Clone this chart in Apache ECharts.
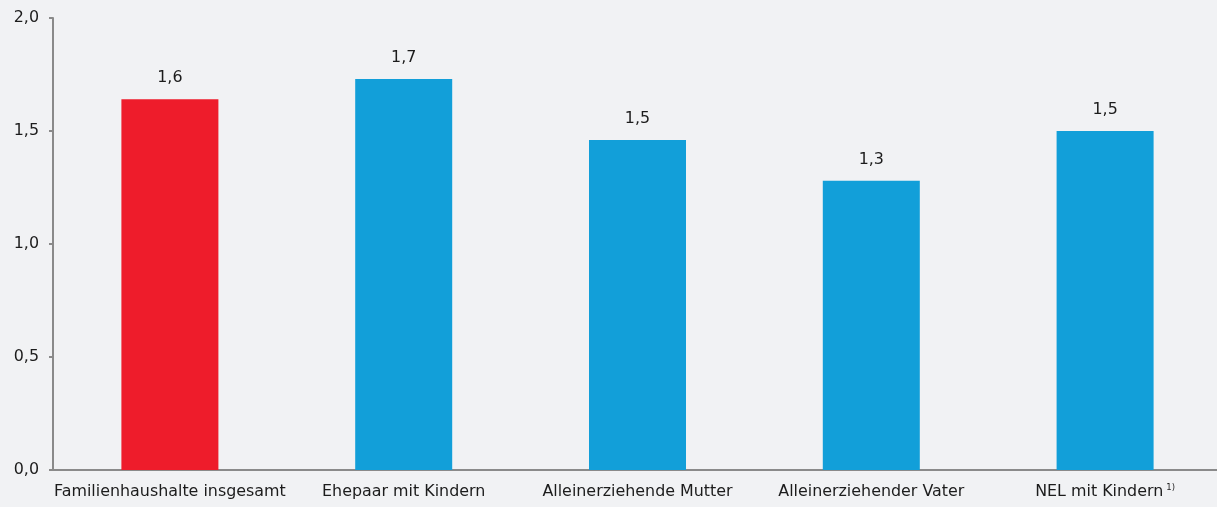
<!DOCTYPE html>
<html>
<head>
<meta charset="utf-8">
<script src="https://cdn.jsdelivr.net/npm/echarts@6/dist/echarts.min.js"></script>
<style>
  html, body { margin: 0; padding: 0; background: #f1f2f4; overflow: hidden; }
  /* the plot runs a few pixels past the right edge of the window */
  #chart { width: 1222px; height: 507px; }
</style>
</head>
<body>
<div id="chart"></div>
<script>
// Household types and their values
const categories = [
  'Familienhaushalte insgesamt',
  'Ehepaar mit Kindern',
  'Alleinerziehende Mutter',
  'Alleinerziehender Vater',
  'NEL mit Kindern'
];
const footnotes = ['', '', '', '', '1)'];
const values = [1.64, 1.73, 1.46, 1.28, 1.50];
const barColors = ['#ee1c2b', '#129fd9', '#129fd9', '#129fd9', '#129fd9'];
const yTicks = [0, 0.5, 1.0, 1.5, 2.0];

const fmt = v => v.toFixed(1).replace('.', ',');
const FONT = 'DejaVu Sans';
const FS = 15.9;
const TXT = '#1c1c1c';

const chart = echarts.init(document.getElementById('chart'), null, { renderer: 'canvas' });
chart.setOption({
  backgroundColor: '#f1f2f4',
  animation: false,
  textStyle: { fontFamily: FONT },
  grid: { left: 53, right: 0, top: 18, bottom: 37, containLabel: false },
  xAxis: {
    type: 'category',
    data: categories,
    axisLine: { show: true, lineStyle: { color: '#8a8a8a', width: 2 } },
    axisTick: { show: false },
    axisLabel: {
      interval: 0,
      margin: 13,
      color: TXT,
      fontFamily: FONT,
      fontSize: FS,
      formatter: (v, i) => footnotes[i] ? '{t|' + v + '}{sup|' + footnotes[i] + '}' : '{t|' + v + '}',
      rich: {
        t: { fontFamily: FONT, fontSize: FS, color: TXT, lineHeight: 18, verticalAlign: 'middle' },
        sup: { fontFamily: FONT, fontSize: 8.5, color: TXT, lineHeight: 18, verticalAlign: 'top', padding: [0, 0, 0, 3] }
      }
    },
    splitLine: { show: false }
  },
  yAxis: {
    type: 'value',
    min: yTicks[0],
    max: yTicks[yTicks.length - 1],
    interval: 0.5,
    axisLine: { show: true, lineStyle: { color: '#8a8a8a', width: 2 } },
    axisTick: { show: true, inside: false, length: 4, lineStyle: { color: '#8a8a8a', width: 2 } },
    axisLabel: {
      margin: 14,
      color: TXT,
      fontFamily: FONT,
      fontSize: FS,
      formatter: v => fmt(v)
    },
    splitLine: { show: false }
  },
  series: [{
    type: 'bar',
    data: values.map((v, i) => ({ value: v, itemStyle: { color: barColors[i] } })),
    barWidth: 97,
    label: {
      show: true,
      position: 'top',
      distance: 13,
      color: TXT,
      fontFamily: FONT,
      fontSize: FS,
      formatter: p => fmt(p.value)
    }
  }]
});
</script>
</body>
</html>
